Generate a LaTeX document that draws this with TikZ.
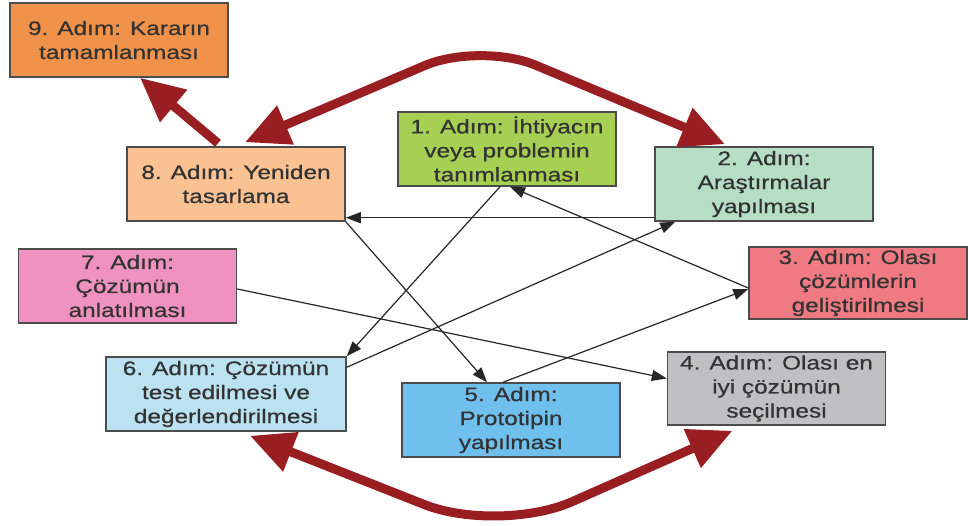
\documentclass[tikz,border=0pt]{standalone}
\usepackage{fontspec}
\setmainfont{Liberation Sans}[FakeStretch=1.25,FakeBold=0.6]
\usepackage{tikz}
\usetikzlibrary{arrows.meta}
\definecolor{stepnine}{RGB}{241,146,74}
\definecolor{stepeight}{RGB}{250,193,146}
\definecolor{stepone}{RGB}{166,207,84}
\definecolor{steptwo}{RGB}{182,222,196}
\definecolor{stepthree}{RGB}{240,122,130}
\definecolor{stepfour}{RGB}{192,192,194}
\definecolor{stepfive}{RGB}{112,192,238}
\definecolor{stepsix}{RGB}{186,226,240}
\definecolor{stepseven}{RGB}{240,146,192}
\definecolor{loopred}{RGB}{152,30,34}

\begin{document}
\begin{tikzpicture}[x=1pt,y=-1pt]%
  \tikzstyle{stepbox}=[rectangle,draw=black!70,line width=1.5pt,minimum width=218pt,minimum height=74pt,inner sep=0pt,align=center,text=black!80,font=\fontsize{19.5}{24}\selectfont]
  \tikzstyle{thinarr}=[draw=black!85,line width=1.2pt,-{Triangle[length=15pt,width=11pt]}]
  \tikzstyle{bigarr}=[draw=loopred,line width=9pt,-{Triangle[length=44pt,width=40pt]}]
  \tikzstyle{bigloop}=[draw=loopred,line width=9pt,{Triangle[length=44pt,width=40pt]}-{Triangle[length=44pt,width=40pt]}]
  \useasboundingbox (0,0) rectangle (968,526);
  \node(s9)[stepbox,fill=stepnine] at (119,40) {9. Adım: Kararın\\tamamlanması};
  \node(s8)[stepbox,fill=stepeight] at (236,184) {8. Adım: Yeniden\\tasarlama};
  \node(s1)[stepbox,fill=stepone] at (507,149) {1. Adım: İhtiyacın\\veya problemin\\tanımlanması};
  \node(s2)[stepbox,fill=steptwo] at (764,184) {2. Adım:\\Araştırmalar\\yapılması};
  \node(s3)[stepbox,fill=stepthree,minimum height=72pt] at (858,283) {3. Adım: Olası\\çözümlerin\\geliştirilmesi};
  \node(s7)[stepbox,fill=stepseven] at (127.5,286) {7. Adım:\\Çözümün\\anlatılması};
  \node(s6)[stepbox,fill=stepsix,minimum width=240pt] at (226,394) {6. Adım: Çözümün\\test edilmesi ve\\değerlendirilmesi};
  \node(s5)[stepbox,fill=stepfive] at (511,420) {5. Adım:\\Prototipin\\yapılması};
  \node(s4)[stepbox,fill=stepfour,minimum height=73pt] at (776.5,388.5) {4. Adım: Olası en\\iyi çözümün\\seçilmesi};
  % thin links
  \draw[thinarr] ([yshift=4pt]s2.south west) -- ([yshift=4pt]s8.south east);
  \draw[thinarr] ([xshift=-7pt]s1.south) -- (s6.north east);
  \draw[thinarr] ([yshift=-11pt]s6.north east) -- ([xshift=21pt]s2.south west);
  \draw[thinarr] ([yshift=-5pt]s3.west) -- ([xshift=3pt]s1.south);
  \draw[thinarr] (s8.south east) -- ([xshift=-24pt]s5.north);
  \draw[thinarr] ([xshift=-8pt]s5.north) -- ([yshift=-6pt]s3.west);
  \draw[thinarr] ([yshift=-3pt]s7.east) -- ([yshift=10pt]s4.west);
  % red loops
  \coordinate (top) at (480,42);
  \coordinate (bot) at (499,534);
  \draw[bigarr] ([xshift=-18pt,yshift=3pt]s8.north) -- ([xshift=21pt]s9.south);
  \draw[bigloop,rounded corners=60pt] ([xshift=9pt,yshift=4pt]s8.north) -- (top) -- ([xshift=-39pt,yshift=2pt]s2.north);
  \draw[bigloop,rounded corners=80pt] ([xshift=24pt,yshift=-4pt]s6.south) -- (bot) -- ([xshift=-44pt,yshift=-5pt]s4.south);
\end{tikzpicture}
\end{document}
